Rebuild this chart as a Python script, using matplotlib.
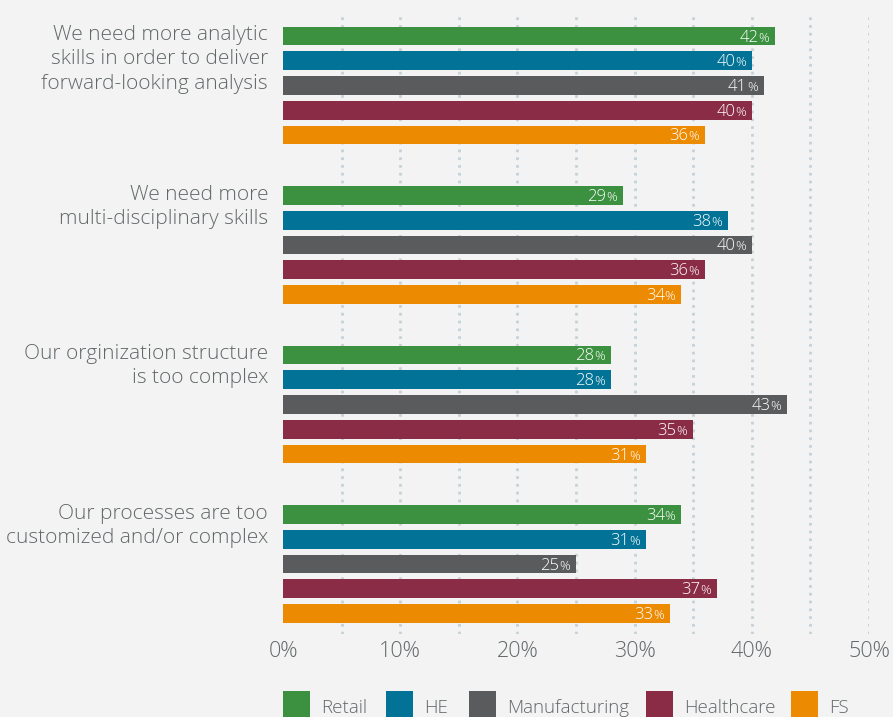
import matplotlib.pyplot as plt
from matplotlib.patches import Rectangle
from matplotlib.transforms import offset_copy

# data
questions = ['We need more analytic\nskills in order to deliver\nforward-looking analysis',
             'We need more\nmulti-disciplinary skills',
             'Our orginization structure\nis too complex',
             'Our processes are too\ncustomized and/or complex']
sectors = ['Retail', 'HE', 'Manufacturing', 'Healthcare', 'FS']
retail = [42, 29, 28, 34]
he = [40, 38, 28, 31]
manufacturing = [41, 40, 43, 25]
healthcare = [40, 36, 35, 37]
fs = [36, 34, 31, 33]
xticks = [0, 10, 20, 30, 40, 50]
xticklabels = ['0%', '10%', '20%', '30%', '40%', '50%']

series = [retail, he, manufacturing, healthcare, fs]
colors = ['#3b9140', '#027396', '#5a5b5c', '#8b2c47', '#ec8a02']
bg = '#f2f3f2'
txt = '#62676a'

plt.rcParams['font.family'] = ['Open Sans', 'DejaVu Sans']
plt.rcParams['font.weight'] = 'light'

W, H = 893, 717
fig = plt.figure(figsize=(W / 100, H / 100), dpi=100, facecolor=bg)
top_px, bot_px = 12, 634
left_px, right_px = 283, 869
ax = fig.add_axes([left_px / W, 1 - bot_px / H, (right_px - left_px) / W, (bot_px - top_px) / H])
ax.set_facecolor(bg)
ax.set_xlim(0, 50)
ax.set_ylim(bot_px, top_px)  # y in pixels, top down

for x in range(5, 51, 5):
    ax.axvline(x, color='#c5d2da', lw=2, dashes=(1, 1.8), dash_capstyle='butt', zorder=0)

group_start = 36
group_step = 159.5
bar_step = 24.75
bar_h = 18.7

renderer = fig.canvas.get_renderer()
for g, q in enumerate(questions):
    y0 = group_start + g * group_step
    for i, vals in enumerate(series):
        y = y0 + i * bar_step
        v = vals[g]
        ax.barh(y, v, height=bar_h, color=colors[i], zorder=2)
        t_pct = offset_copy(ax.transData, fig=fig, x=-6, y=0, units='dots')
        pct = ax.text(v, y + 5.5, '%', color='white', fontsize=9.5, ha='right', va='baseline',
                      transform=t_pct, zorder=3)
        pw = pct.get_window_extent(renderer).width
        t_num = offset_copy(ax.transData, fig=fig, x=-6 - pw, y=0, units='dots')
        ax.text(v, y + 5.5, str(v), color='white', fontsize=12, ha='right', va='baseline',
                transform=t_num, zorder=3)
    t_lab = offset_copy(ax.transData, fig=fig, x=-15, y=0, units='dots')
    ax.text(0, y0 - 11, q, color=txt, fontsize=15, ha='right', va='top',
            linespacing=1.3, transform=t_lab)

ax.set_xticks(xticks)
ax.set_xticklabels(xticklabels, fontsize=15.5, color=txt)
ax.tick_params(axis='x', length=0, pad=5)
ax.set_yticks([])
for s in ax.spines.values():
    s.set_visible(False)

# legend along the bottom edge
leg_x = [283, 386, 469, 646, 791]
for i, name in enumerate(sectors):
    fig.patches.append(Rectangle((leg_x[i] / W, 0), 27 / W, 26 / H, transform=fig.transFigure,
                                 facecolor=colors[i], edgecolor='none'))
    fig.text((leg_x[i] + 38) / W, 4 / H, name, color=txt, fontsize=13.5, ha='left', va='baseline')

fig.savefig('out.png', dpi=100, facecolor=bg)
